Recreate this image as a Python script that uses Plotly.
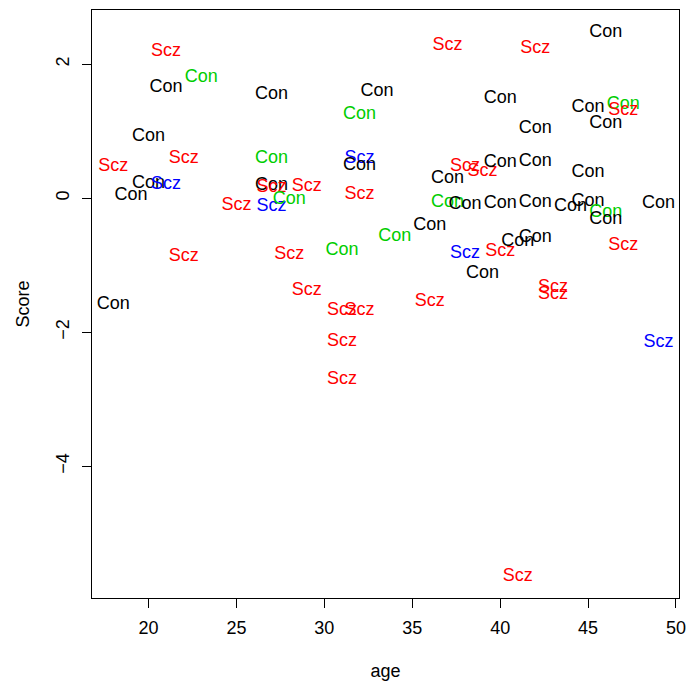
import plotly.graph_objects as go

# Data (age, Score, label, colour group)
age = [46, 21, 37, 42, 23, 21, 27, 33, 40, 32,
       42, 45, 47, 47, 46, 20, 18, 22, 27, 32,
       32, 37, 38, 39, 40, 42, 45, 20, 21, 19,
       27, 27, 29, 32, 25, 27, 28, 37, 38, 40,
       42, 44, 45, 46, 46, 49, 36, 34, 31, 22,
       28, 38, 39, 40, 41, 42, 47, 18, 29, 31,
       32, 36, 43, 43, 31, 31, 49, 41]
score = [2.473, 2.188, 2.278, 2.228, 1.796, 1.651, 1.552, 1.587, 1.482, 1.254,
         1.034, 1.352, 1.393, 1.303, 1.119, 0.919, 0.472, 0.587, 0.587, 0.597,
         0.482, 0.288, 0.467, 0.397, 0.537, 0.546, 0.388, 0.228, 0.213, 0.039,
         0.184, 0.161, 0.173, 0.049, -0.110, -0.125, -0.025, -0.060, -0.100, -0.075,
         -0.060, -0.125, -0.051, -0.209, -0.324, -0.085, -0.399, -0.573, -0.772, -0.872,
         -0.846, -0.821, -1.119, -0.787, -0.648, -0.582, -0.707, -1.578, -1.379, -1.678,
         -1.678, -1.543, -1.328, -1.443, -2.140, -2.701, -2.155, -5.652]
label = ["Con", "Scz", "Scz", "Scz", "Con", "Con", "Con", "Con", "Con", "Con",
         "Con", "Con", "Con", "Scz", "Con", "Con", "Scz", "Scz", "Con", "Scz",
         "Con", "Con", "Scz", "Scz", "Con", "Con", "Con", "Con", "Scz", "Con",
         "Con", "Scz", "Scz", "Scz", "Scz", "Scz", "Con", "Con", "Con", "Con",
         "Con", "Con", "Con", "Con", "Con", "Con", "Con", "Con", "Con", "Scz",
         "Scz", "Scz", "Con", "Scz", "Con", "Con", "Scz", "Con", "Scz", "Scz",
         "Scz", "Scz", "Scz", "Scz", "Scz", "Scz", "Scz", "Scz"]
group = [1, 2, 2, 2, 3, 1, 1, 1, 1, 3,
         1, 1, 3, 2, 1, 1, 2, 2, 3, 4,
         1, 1, 2, 2, 1, 1, 1, 1, 4, 1,
         1, 2, 2, 2, 2, 4, 3, 3, 1, 1,
         1, 1, 1, 3, 1, 1, 1, 3, 3, 2,
         2, 4, 1, 2, 1, 1, 2, 1, 2, 2,
         2, 2, 2, 2, 2, 2, 4, 2]

x_ticks = [20, 25, 30, 35, 40, 45, 50]
y_ticks = [-4, -2, 0, 2]

palette = {1: "#000000", 2: "#FF0000", 3: "#00CD00", 4: "#0000FF"}
colors = [palette[g] for g in group]

FONT = "Liberation Sans, Arial, Helvetica, sans-serif"

fig = go.Figure(go.Scatter(
    x=age, y=score, text=label, mode="text",
    textposition="middle center",
    textfont=dict(family=FONT, size=18, color=colors),
    hoverinfo="skip", showlegend=False,
))

axis_common = dict(
    showgrid=False, zeroline=False,
    showline=True, linecolor="#000000", linewidth=1, mirror=True,
    ticks="outside", ticklen=9, tickwidth=1, tickcolor="#000000",
    tickfont=dict(family=FONT, size=18, color="#000000"),
    ticklabeloverflow="allow", automargin=False,
)

fig.update_layout(
    width=686, height=683,
    margin=dict(l=92, r=7, t=10, b=85, autoexpand=False),
    paper_bgcolor="white", plot_bgcolor="white",
    xaxis=dict(range=[16.787, 50.171], tickvals=x_ticks, ticklabelstandoff=4,
               title=dict(text="age", font=dict(family=FONT, size=18, color="#000000"), standoff=27),
               **axis_common),
    yaxis=dict(range=[-5.966, 2.810], tickvals=y_ticks, tickangle=-90, ticklabelstandoff=6,
               title=dict(text="Score", font=dict(family=FONT, size=18, color="#000000"), standoff=18),
               **axis_common),
    font=dict(family=FONT),
)

fig.write_html("out.html", config={"displayModeBar": False},
               post_script="document.body.style.margin='0';")
